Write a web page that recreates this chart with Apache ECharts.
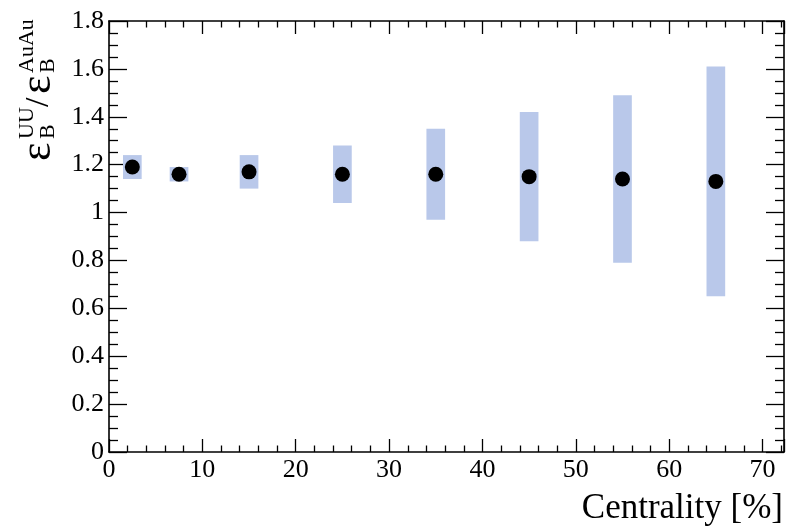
<!DOCTYPE html>
<html>
<head>
<meta charset="utf-8">
<script src="https://cdn.jsdelivr.net/npm/echarts@6/dist/echarts.min.js"></script>
<style>
html,body{margin:0;padding:0;background:#fff;}
#chart{width:788px;height:527px;}
</style>
</head>
<body>
<div id="chart"></div>
<script>
// Data
var centrality = [2.5, 7.5, 15, 25, 35, 45, 55, 65];
var ratio      = [1.19, 1.16, 1.17, 1.16, 1.16, 1.15, 1.14, 1.13];
var boxXLow    = [1.5, 6.5, 14, 24, 34, 44, 54, 64];
var boxXHigh   = [3.5, 8.5, 16, 26, 36, 46, 56, 66];
var sysLow     = [1.14, 1.13, 1.10, 1.04, 0.97, 0.88, 0.79, 0.65];
var sysHigh    = [1.24, 1.19, 1.24, 1.28, 1.35, 1.42, 1.49, 1.61];
var xTicks = [0, 10, 20, 30, 40, 50, 60, 70];
var yTicks = [0, 0.2, 0.4, 0.6, 0.8, 1, 1.2, 1.4, 1.6, 1.8];

var FONT = 'Liberation Serif';
var chart = echarts.init(document.getElementById('chart'));

var boxData = centrality.map(function (c, i) {
  return [boxXLow[i], boxXHigh[i], sysLow[i], sysHigh[i]];
});
var pointData = centrality.map(function (c, i) { return [c, ratio[i]]; });

function xAxisCfg(pos, showLabels) {
  return {
    type: 'value', position: pos, min: 0, max: 72.3, interval: 10,
    axisLine: { show: true, onZero: false, lineStyle: { color: '#000', width: 1.6 } },
    axisTick: { show: true, inside: true, length: 13, lineStyle: { color: '#000', width: 1.3 } },
    minorTick: { show: true, splitNumber: 5, length: 6.5, lineStyle: { color: '#000', width: 1.3 } },
    splitLine: { show: false },
    axisLabel: {
      show: showLabels, fontFamily: FONT, fontSize: 26, color: '#000', margin: 5,
      showMaxLabel: false,
      formatter: function (v) { return xTicks.indexOf(v) >= 0 ? String(v) : ''; }
    }
  };
}
function yAxisCfg(pos, showLabels) {
  return {
    type: 'value', position: pos, min: 0, max: 1.8, interval: 0.2,
    axisLine: { show: true, onZero: false, lineStyle: { color: '#000', width: 1.6 } },
    axisTick: { show: true, inside: true, length: 18, lineStyle: { color: '#000', width: 1.3 } },
    minorTick: { show: true, splitNumber: 4, length: 9, lineStyle: { color: '#000', width: 1.3 } },
    splitLine: { show: false },
    axisLabel: {
      show: showLabels, fontFamily: FONT, fontSize: 26, color: '#000', margin: 5,
      formatter: function (v) {
        var r = Math.round(v * 10) / 10;
        return yTicks.indexOf(r) >= 0 ? String(r) : '';
      }
    }
  };
}

function label(text, lx, ly, size) {
  return {
    type: 'text', x: lx, y: ly,
    style: { text: text, fontFamily: FONT, fontSize: size, fill: '#000', align: 'left', verticalAlign: 'middle' }
  };
}

chart.setOption({
  animation: false,
  backgroundColor: '#fff',
  grid: { left: 109, right: 4, top: 21, bottom: 75, containLabel: false },
  xAxis: [xAxisCfg('bottom', true), xAxisCfg('top', false)],
  yAxis: [yAxisCfg('left', true), yAxisCfg('right', false)],
  series: [
    {
      type: 'custom',
      xAxisIndex: 0, yAxisIndex: 0,
      data: boxData,
      encode: { x: [0, 1], y: [2, 3] },
      renderItem: function (params, api) {
        var p1 = api.coord([api.value(0), api.value(3)]);
        var p2 = api.coord([api.value(1), api.value(2)]);
        return {
          type: 'rect',
          shape: { x: p1[0], y: p1[1], width: p2[0] - p1[0], height: p2[1] - p1[1] },
          style: { fill: '#b9c8ea' }
        };
      },
      z: 2
    },
    {
      type: 'scatter',
      xAxisIndex: 0, yAxisIndex: 0,
      data: pointData,
      symbol: 'circle', symbolSize: 15,
      itemStyle: { color: '#000', opacity: 1 },
      z: 5
    }
  ],
  graphic: [
    {
      type: 'group', x: 43, y: 160, rotation: Math.PI / 2,
      children: [
        label('\u03b5', -1, -5, 44),
        label('UU', 21, -16, 22),
        label('B', 21, 5, 22),
        label('/', 53, -4, 34),
        label('\u03b5', 66, -5, 44),
        label('AuAu', 87, -16, 22),
        label('B', 87, 5, 22)
      ]
    },
    {
      type: 'text', right: 5, bottom: 1,
      style: { text: 'Centrality [%]', fontFamily: FONT, fontSize: 35, fill: '#000' }
    }
  ]
});
</script>
</body>
</html>
